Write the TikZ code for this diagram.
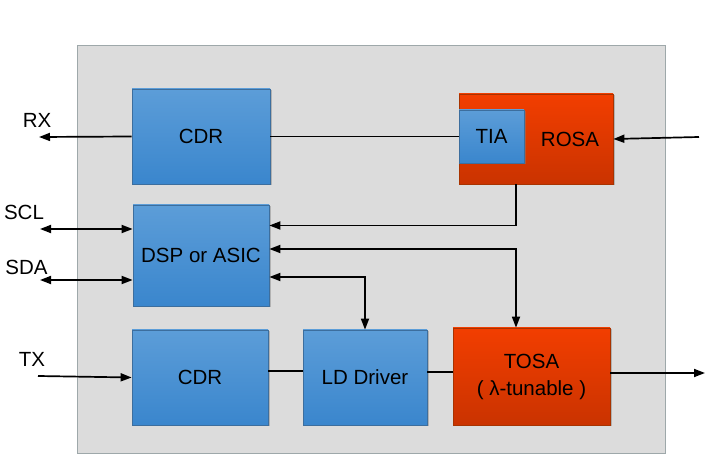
\documentclass[tikz,border=0pt]{standalone}
\usepackage{fontspec}
\setmainfont{Liberation Sans}
\usetikzlibrary{calc}
\usetikzlibrary{positioning}
\usetikzlibrary{arrows.meta}
\usetikzlibrary{shadows}

\definecolor{blueTop}{HTML}{5C9DD8}
\definecolor{blueBot}{HTML}{3A86CD}
\definecolor{blueLine}{HTML}{3C6E9E}
\definecolor{redTop}{HTML}{F23E00}
\definecolor{redBot}{HTML}{CA3300}
\definecolor{redLine}{HTML}{A83300}
\definecolor{moduleFill}{HTML}{DCDCDC}
\definecolor{moduleLine}{HTML}{9EA8AA}

\tikzset{
    block/.style={draw, line width=0.7pt, font=\fontsize{20.5}{24}\selectfont,
        drop shadow={shadow xshift=1.5pt, shadow yshift=-1.5pt, opacity=0.45}},
    bluebox/.style={block, draw=blueLine, top color=blueTop, bottom color=blueBot},
    redbox/.style={block, draw=redLine, top color=redTop, bottom color=redBot},
    wire/.style={line width=1.7pt},
    sig/.style={wire, -{Triangle[length=11pt,width=8pt]}},
    bisig/.style={wire, {Triangle[length=11pt,width=8pt]}-{Triangle[length=11pt,width=8pt]}},
    pin/.style={font=\fontsize{20.5}{24}\selectfont}
}

\begin{document}
\begin{tikzpicture}[x=1pt, y=-1pt]
            \useasboundingbox (0,0) rectangle (713,470);

            % Module outline
            \draw[fill=moduleFill, draw=moduleLine, line width=0.9pt] (77,45) rectangle (665,453);

            % Receive path
            \node[bluebox, minimum width=138pt, minimum height=95pt] (cdrrx) at (201,136.5) {CDR};
            \node[redbox, minimum width=154pt, minimum height=90pt] (rosa) at (536,139) {};
            \node[pin] (rosatext) at (570,139) {ROSA};
            \node[bluebox, minimum width=65pt, minimum height=53pt] (tia) at (491.5,136.5) {TIA};

            % Control
            \node[bluebox, minimum width=136pt, minimum height=101pt] (dsp) at (201,255.5) {DSP or ASIC};

            % Transmit path
            \node[bluebox, minimum width=136pt, minimum height=95pt] (cdrtx) at (200,377.5) {CDR};
            \node[bluebox, minimum width=124pt, minimum height=95pt] (ld) at (365,377.5) {LD Driver};
            \node[redbox, minimum width=157pt, minimum height=97pt, align=center] (tosa) at (531.5,376.5)
                {TOSA\\[3pt]( λ-tunable )};

            % External pins
            \coordinate (rxend) at (39,137);
            \coordinate (rosain) at (699,137);
            \coordinate (sclend) at (40,229);
            \coordinate (sdaend) at (40,280);
            \coordinate (txin) at (38,376);
            \coordinate (txout) at (705,373);
            \node[pin] (rxlabel) at (37,120) {RX};
            \node[pin] (scllabel) at (24,212) {SCL};
            \node[pin] (sdalabel) at (26.5,267) {SDA};
            \node[pin] (txlabel) at (32,359) {TX};

            % Signal lines
            \draw[sig] (cdrrx.west) -- (rxend);
            \draw[wire] (cdrrx.east) -- (tia.west);
            \draw[sig] (rosain) -- (rosa.east);
            \draw[bisig] (sclend) -- (dsp.west |- sclend);
            \draw[bisig] (sdaend) -- (dsp.west |- sdaend);
            \draw[sig] ([xshift=-20pt]rosa.south) |- ([yshift=30pt]dsp.east);
            \draw[bisig] ([yshift=6.5pt]dsp.east) -| ([xshift=-15.5pt]tosa.north);
            \draw[bisig] ([yshift=-21.5pt]dsp.east) -| (ld.north);
            \draw[sig] (txin) -- (cdrtx.west);
            \draw[wire] ([yshift=6.5pt]cdrtx.east) -- ([yshift=6.5pt]ld.west);
            \draw[wire] ([yshift=5.5pt]ld.east) -- ([yshift=5.5pt]tosa.west |- ld.east);
            \draw[sig] ([yshift=3.5pt]tosa.east) -- (txout);
        \end{tikzpicture}
\end{document}
